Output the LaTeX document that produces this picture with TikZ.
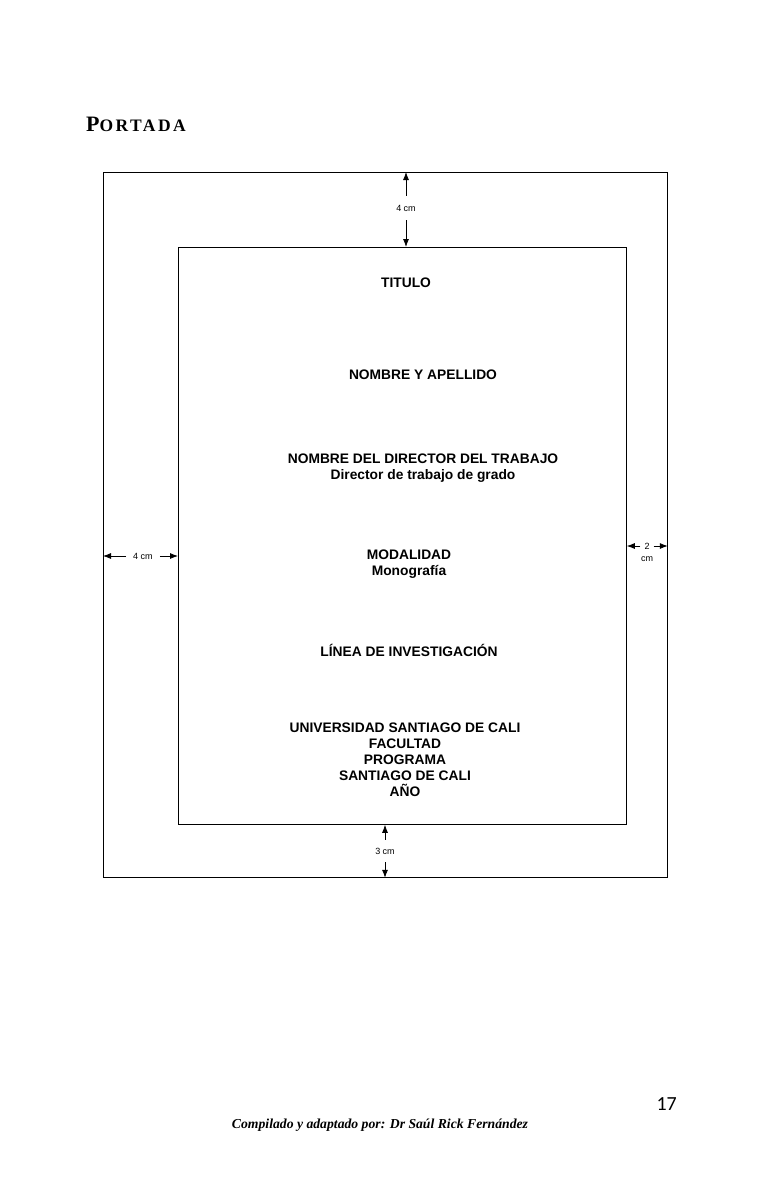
\documentclass[tikz,border=0pt]{standalone}
\usepackage{fontspec}
\setmainfont{Liberation Sans}
\newfontfamily\serifbf{Liberation Serif}
\newfontfamily\pagefont{Carlito}
\usetikzlibrary{arrows.meta, positioning}

\begin{document}
\begin{tikzpicture}[
    x=1pt, y=-1pt, % one unit is one pixel of the page, y runs down
    >={Latex[length=8pt,width=6pt]}, % Set default arrow tip style
    frame/.style={draw, line width=0.8pt, anchor=north west, inner sep=0pt}, % Style for the margin boxes
    dimarrow/.style={->, line width=0.8pt}, % Style for the margin arrows
    dimlbl/.style={font=\fontsize{9}{10}\selectfont}, % Style for the margin values
    entry/.style={font=\bfseries\fontsize{13.8}{16}\selectfont, align=center, inner sep=0pt} % Style for the cover texts
]
    \useasboundingbox (0,0) rectangle (776,1200);

    % Heading
    \node[anchor=base west, inner sep=0pt] (heading) at (86,131)
        {\serifbf\bfseries\addfontfeature{LetterSpace=14}\fontsize{22}{24}\selectfont P\fontsize{17.5}{20}\selectfont ORTADA};

    % Page and text area
    \node[frame, minimum width=564pt, minimum height=705pt] (outer) at (103,172) {};
    \node[frame, minimum width=448pt, minimum height=577pt] (inner) at (178,247) {};

    % Top margin
    \node[dimlbl, inner ysep=9pt] (topLbl) at (406,208) {4 cm};
    \draw[dimarrow] (topLbl) -- (topLbl |- outer.north);
    \draw[dimarrow] (topLbl) -- (topLbl |- inner.north);

    % Left margin
    \node[dimlbl, inner xsep=7pt] (leftLbl) at (143,556) {4 cm};
    \draw[dimarrow] (leftLbl) -- (leftLbl -| outer.west);
    \draw[dimarrow] (leftLbl) -- (leftLbl -| inner.west);

    % Right margin
    \node[dimlbl, inner xsep=4pt] (rightLbl) at (647,546) {2};
    \node[dimlbl, below=0pt of rightLbl] (rightCm) {cm};
    \draw[dimarrow] (rightLbl) -- (rightLbl -| inner.east);
    \draw[dimarrow] (rightLbl) -- (rightLbl -| outer.east);

    % Bottom margin
    \node[dimlbl, inner ysep=8pt] (botLbl) at (385,851) {3 cm};
    \draw[dimarrow] (botLbl) -- (botLbl |- inner.south);
    \draw[dimarrow] (botLbl) -- (botLbl |- outer.south);

    % Cover contents
    \node[entry] (titulo) at (406,283) {TITULO};
    \node[entry] (autor) at (423,375) {NOMBRE Y APELLIDO};
    \node[entry] (director) at (423,468) {NOMBRE DEL DIRECTOR DEL TRABAJO\\Director de trabajo de grado};
    \node[entry] (modalidad) at (409,564) {MODALIDAD\\Monografía};
    \node[entry] (linea) at (409,650) {LÍNEA DE INVESTIGACIÓN};
    \node[entry] (univ) at (405,760) {UNIVERSIDAD SANTIAGO DE CALI\\FACULTAD\\PROGRAMA\\SANTIAGO DE CALI\\AÑO};

    % Footer
    \node[font=\pagefont\fontsize{20}{24}\selectfont, anchor=base east, inner sep=0pt] (pagenum) at (677,1110) {17};
    \node[font=\serifbf\bfseries\itshape\fontsize{13.7}{15}\selectfont, anchor=base, inner sep=0pt] (footer) at (380,1128)
        {Compilado y adaptado por: Dr Saúl Rick Fernández};
\end{tikzpicture}
\end{document}
